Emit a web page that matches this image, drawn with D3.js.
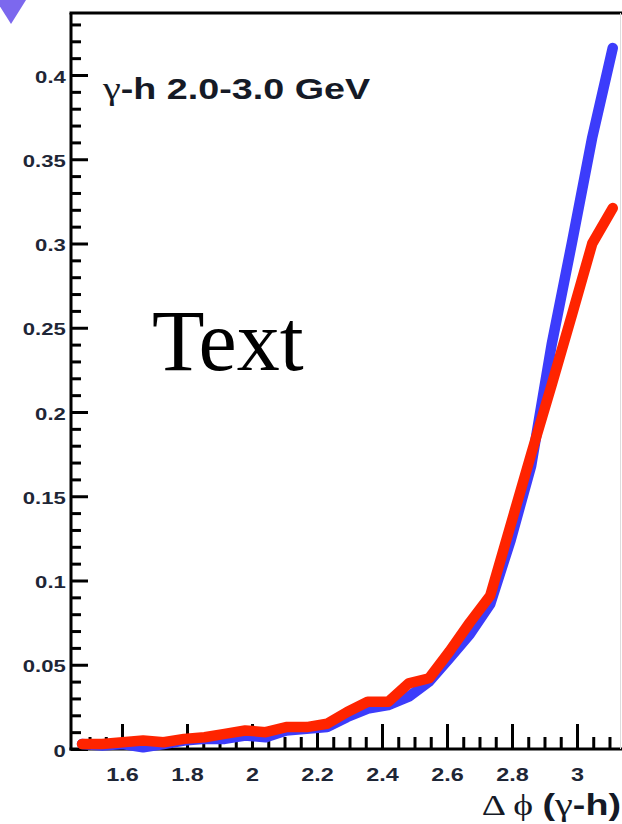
<!DOCTYPE html>
<html>
<head>
<meta charset="utf-8">
<script src="https://cdn.jsdelivr.net/npm/d3@7"></script>
<style>
  body { margin: 0; background: #fff; }
  svg { display: block; }
</style>
</head>
<body>
<div id="chart"></div>
<script>
// bin centres in delta phi (rad)
const phiBins = [1.477, 1.539, 1.602, 1.665, 1.728, 1.791, 1.854, 1.916, 1.979, 2.042,
                 2.105, 2.168, 2.231, 2.293, 2.356, 2.419, 2.482, 2.545, 2.608, 2.670,
                 2.733, 2.796, 2.859, 2.922, 2.985, 3.047, 3.110];
const blueVals = [0.003, 0.002, 0.003, 0.001, 0.003, 0.005, 0.006, 0.006, 0.008, 0.007,
                  0.011, 0.012, 0.013, 0.019, 0.024, 0.026, 0.031, 0.040, 0.054, 0.068,
                  0.086, 0.124, 0.168, 0.240, 0.301, 0.363, 0.416];
const redVals  = [0.003, 0.003, 0.004, 0.005, 0.004, 0.006, 0.007, 0.009, 0.011, 0.010,
                  0.013, 0.013, 0.015, 0.022, 0.028, 0.028, 0.039, 0.042, 0.058, 0.075,
                  0.091, 0.133, 0.175, 0.216, 0.258, 0.300, 0.321];
const xTickLabels = [1.6, 1.8, 2, 2.2, 2.4, 2.6, 2.8, 3];
const yTickLabels = [0, 0.05, 0.1, 0.15, 0.2, 0.25, 0.3, 0.35, 0.4];

const W = 622, H = 824;
const plotL = 71, plotT = 13, plotB = 749, plotR = 623;
const stretch = 1.3;   // the whole picture is pulled wide
const labelColor = "#1e2636";
const sans = "'Liberation Sans', Arial, sans-serif";
const serif = "'Liberation Serif', 'Times New Roman', serif";

function drawChart() {
    const svg = d3.select("#chart").append("svg").attr("width", W).attr("height", H);
    svg.append("rect").attr("width", W).attr("height", H).attr("fill", "#fff");

    const x = d3.scaleLinear().domain([1.443, Math.PI]).range([plotL, plotR]);
    const y = d3.scaleLinear().domain([0, 0.4]).range([plotB, 75]);

    // purple corner marker
    svg.append("polygon").attr("points", "-4,0 26,0 11,24").attr("fill", "#7c68ee");

    // minor ticks
    const yMinor = d3.range(1, 44).map(i => i / 100).filter(v => Math.round(v * 100) % 5 !== 0);
    svg.append("g").attr("transform", `translate(${plotL},0)`)
        .call(d3.axisLeft(y).tickValues(yMinor).tickSize(-10).tickFormat(""))
        .call(g => g.select(".domain").remove())
        .selectAll("line").attr("stroke", "#000").attr("stroke-width", 3);

    const xMinor = d3.range(30, 63).map(i => i / 20).filter(v => Math.round(v * 20) % 4 !== 0);
    svg.append("g").attr("transform", `translate(0,${plotB})`)
        .call(d3.axisBottom(x).tickValues(xMinor).tickSize(-12).tickFormat(""))
        .call(g => g.select(".domain").remove())
        .selectAll("line").attr("stroke", "#000").attr("stroke-width", 3);

    // major ticks + labels
    const yAxis = svg.append("g").attr("transform", `translate(${plotL},0)`)
        .call(d3.axisLeft(y).tickValues(yTickLabels).tickSize(-17).tickPadding(4).tickFormat(d => d3.format("")(d)))
        .call(g => g.select(".domain").remove());
    yAxis.selectAll("line").attr("stroke", "#000").attr("stroke-width", 3);
    yAxis.selectAll("text")
        .attr("font-family", sans)
        .attr("font-weight", "bold").attr("font-size", 17).attr("fill", labelColor)
        .attr("dy", "0.42em")
        .attr("transform", `scale(${stretch},1)`);

    const xAxis = svg.append("g").attr("transform", `translate(0,${plotB})`)
        .call(d3.axisBottom(x).tickValues(xTickLabels).tickSize(-25).tickPadding(19).tickFormat(d => d3.format("")(d)))
        .call(g => g.select(".domain").remove());
    xAxis.selectAll("line").attr("stroke", "#000").attr("stroke-width", 3);
    xAxis.selectAll("text")
        .attr("font-family", sans)
        .attr("font-weight", "bold").attr("font-size", 18).attr("fill", labelColor);
    xAxis.selectAll(".tick").each(function () {
        const t = d3.select(this).attr("transform");
        d3.select(this).attr("transform", t + ` scale(${stretch},1)`);
        d3.select(this).select("line").attr("transform", `scale(${1 / stretch},1)`);
    });

    // frame
    svg.append("line").attr("x1", plotL).attr("x2", plotL).attr("y1", plotT).attr("y2", plotB + 1.5)
        .attr("stroke", "#000").attr("stroke-width", 3);
    svg.append("line").attr("x1", plotL - 1.5).attr("x2", W).attr("y1", plotB).attr("y2", plotB)
        .attr("stroke", "#000").attr("stroke-width", 3);
    svg.append("line").attr("x1", plotL - 1.5).attr("x2", W).attr("y1", plotT).attr("y2", plotT)
        .attr("stroke", "#000").attr("stroke-width", 3);
    svg.append("line").attr("x1", 620.5).attr("x2", 620.5).attr("y1", plotT).attr("y2", plotB)
        .attr("stroke", "#ddd").attr("stroke-width", 1);

    // curves
    const line = d3.line().x(d => x(d[0])).y(d => y(d[1]));
    [[blueVals, "#3c3cfb"], [redVals, "#ff2400"]].forEach(([vals, col]) => {
        svg.append("path")
            .datum(phiBins.map((p, i) => [p, vals[i]]))
            .attr("d", line)
            .attr("fill", "none").attr("stroke", col).attr("stroke-width", 10.5)
            .attr("stroke-linejoin", "round").attr("stroke-linecap", "round");
    });

    // labels
    const lab = svg.append("text")
        .attr("transform", `translate(103,99) scale(${stretch},1)`)
        .attr("font-family", sans)
        .attr("font-weight", "bold").attr("font-size", 29).attr("fill", "#151a26");
    lab.append("tspan").attr("font-family", serif).attr("font-weight", "normal").attr("font-size", 31).text("γ");
    lab.append("tspan").text("-h 2.0-3.0 GeV");

    svg.append("text")
        .attr("x", 152).attr("y", 370)
        .attr("font-family", serif)
        .attr("font-size", 86).attr("fill", "#000")
        .text("Text");

    const title = svg.append("text")
        .attr("transform", `translate(621,815) scale(${stretch},1)`)
        .attr("text-anchor", "end").attr("font-size", 29).attr("fill", "#151a26");
    title.append("tspan").attr("font-family", serif).text("Δ ϕ ");
    title.append("tspan").attr("font-family", sans).attr("font-weight", "bold").text("(");
    title.append("tspan").attr("font-family", serif).attr("font-size", 31).text("γ");
    title.append("tspan").attr("font-family", sans).attr("font-weight", "bold").text("-h)");
}

drawChart();
</script>
</body>
</html>
